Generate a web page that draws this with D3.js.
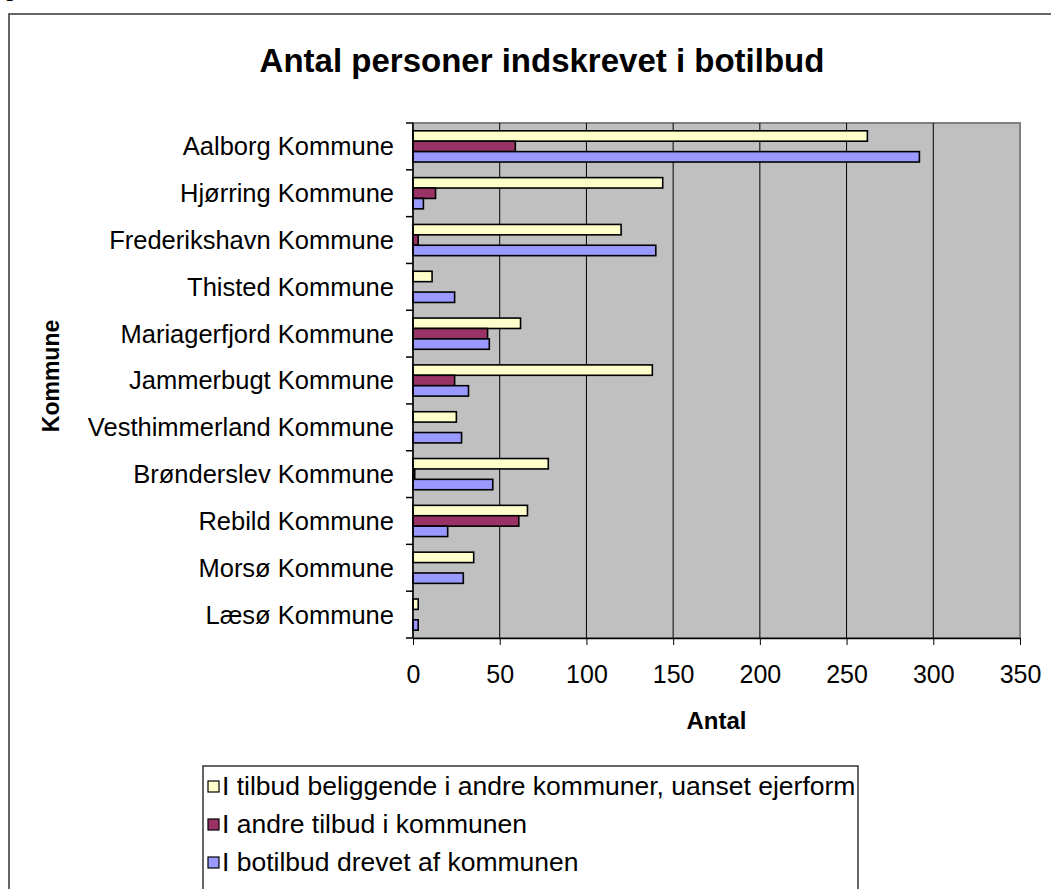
<!DOCTYPE html>
<html>
<head>
<meta charset="utf-8">
<script src="https://cdn.jsdelivr.net/npm/d3@7"></script>
<style>
  body { margin: 0; background: #fff; }
  svg { display: block; font-family: Arial, "Liberation Sans", sans-serif; }
</style>
</head>
<body>
<div class="chart"></div>
<script>
const kommuner = ["Aalborg Kommune", "Hjørring Kommune", "Frederikshavn Kommune", "Thisted Kommune",
    "Mariagerfjord Kommune", "Jammerbugt Kommune", "Vesthimmerland Kommune", "Brønderslev Kommune",
    "Rebild Kommune", "Morsø Kommune", "Læsø Kommune"]

const seriesNames = ["I tilbud beliggende i andre kommuner, uanset ejerform",
    "I andre tilbud i kommunen",
    "I botilbud drevet af kommunen"]
const seriesColors = ["#ffffcc", "#993366", "#9999ff"]

const andreKommuner = [262, 144, 120, 11, 62, 138, 25, 78, 66, 35, 3]
const andreTilbud = [59, 13, 3, 0, 43, 24, 0, 1, 61, 0, 0]
const egneTilbud = [292, 6, 140, 24, 44, 32, 28, 46, 20, 29, 3]

const xTicks = [0, 50, 100, 150, 200, 250, 300, 350]

const values = [andreKommuner, andreTilbud, egneTilbud]

const width = 1051,
    height = 889,
    plot = { left: 413, right: 1020, top: 123, bottom: 638 }

const svg = d3.select(".chart")
    .append("svg")
    .attr("width", width)
    .attr("height", height)

// outer chart border (right/bottom run off the picture)
svg.append("rect")
    .attr("x", 9).attr("y", 14)
    .attr("width", 1100).attr("height", 1000)
    .attr("fill", "#fff")
    .attr("stroke", "#333")
    .attr("stroke-width", 1.5)

// leftover of a line above the chart
svg.append("text")
    .attr("x", 3).attr("y", -4)
    .style("font-size", "25px")
    .text("g")

svg.append("text")
    .attr("x", 542).attr("y", 72)
    .attr("text-anchor", "middle")
    .style("font-size", "33px")
    .style("font-weight", "bold")
    .text("Antal personer indskrevet i botilbud")

const x = d3.scaleLinear()
    .domain([0, 350])
    .range([plot.left, plot.right])

const y = d3.scaleBand()
    .domain(kommuner)
    .range([plot.top, plot.bottom])
    .paddingInner(1 / 3)
    .paddingOuter(1 / 6)

const ySub = d3.scaleBand()
    .domain(d3.range(seriesNames.length))
    .range([0, y.bandwidth()])

svg.append("rect")
    .attr("x", plot.left).attr("y", plot.top)
    .attr("width", plot.right - plot.left)
    .attr("height", plot.bottom - plot.top)
    .attr("fill", "#c0c0c0")
    .attr("stroke", "#808080")
    .attr("stroke-width", 2)

svg.append("g")
    .selectAll("line")
    .data(xTicks.slice(1, -1))
    .join("line")
    .attr("x1", d => x(d)).attr("x2", d => x(d))
    .attr("y1", plot.top).attr("y2", plot.bottom)
    .attr("stroke", "#000")
    .attr("stroke-width", 1)

// bars
const rows = kommuner.map((k, i) => ({ name: k, vals: values.map(s => s[i]) }))

svg.append("g")
    .selectAll("g")
    .data(rows)
    .join("g")
    .attr("transform", d => `translate(0,${y(d.name)})`)
    .selectAll("rect")
    .data(d => d.vals.map((v, s) => ({ v, s })).filter(d => d.v > 0))
    .join("rect")
    .attr("x", x(0))
    .attr("y", d => ySub(d.s))
    .attr("width", d => x(d.v) - x(0))
    .attr("height", ySub.bandwidth())
    .attr("fill", d => seriesColors[d.s])
    .attr("stroke", "#000")
    .attr("stroke-width", 1.6)

// x axis
const xAxis = svg.append("g")
    .attr("transform", `translate(0,${plot.bottom})`)
    .call(d3.axisBottom(x).tickValues(xTicks).tickSize(7).tickPadding(20).tickSizeOuter(0))
xAxis.select(".domain").attr("stroke", "#000").attr("stroke-width", 1.5)
xAxis.selectAll("text")
    .style("font-size", "25px")
    .attr("fill", "#000")
    .attr("font-family", null)

// y axis: ticks between categories
const yBounds = d3.range(kommuner.length + 1).map(i => plot.top + i * y.step())
svg.append("line")
    .attr("x1", plot.left).attr("x2", plot.left)
    .attr("y1", plot.top).attr("y2", plot.bottom)
    .attr("stroke", "#000").attr("stroke-width", 1.5)
svg.append("g")
    .selectAll("line")
    .data(yBounds)
    .join("line")
    .attr("x1", plot.left - 7).attr("x2", plot.left)
    .attr("y1", d => d).attr("y2", d => d)
    .attr("stroke", "#000").attr("stroke-width", 1.5)

svg.append("g")
    .selectAll("text")
    .data(kommuner)
    .join("text")
    .attr("x", 394)
    .attr("y", d => y(d) + y.bandwidth() / 2)
    .attr("dy", "0.35em")
    .attr("text-anchor", "end")
    .style("font-size", "25.5px")
    .text(d => d)

svg.append("text")
    .attr("transform", "translate(59,376) rotate(-90)")
    .attr("text-anchor", "middle")
    .style("font-size", "23px")
    .style("font-weight", "bold")
    .text("Kommune")

svg.append("text")
    .attr("x", (plot.left + plot.right) / 2)
    .attr("y", 729)
    .attr("text-anchor", "middle")
    .style("font-size", "24px")
    .style("font-weight", "bold")
    .text("Antal")

// legend
const legend = svg.append("g")
legend.append("rect")
    .attr("x", 203).attr("y", 766)
    .attr("width", 655).attr("height", 200)
    .attr("fill", "#fff")
    .attr("stroke", "#333")
    .attr("stroke-width", 1.5)

const item = legend.selectAll("g")
    .data(seriesNames)
    .join("g")
    .attr("transform", (d, i) => `translate(208,${786 + i * 38})`)
item.append("rect")
    .attr("x", 0).attr("y", -5)
    .attr("width", 11).attr("height", 11)
    .attr("fill", (d, i) => seriesColors[i])
    .attr("stroke", "#000")
    .attr("stroke-width", 1.2)
item.append("text")
    .attr("x", 14)
    .attr("dy", "0.35em")
    .style("font-size", "26.5px")
    .text(d => d)
</script>
</body>
</html>
